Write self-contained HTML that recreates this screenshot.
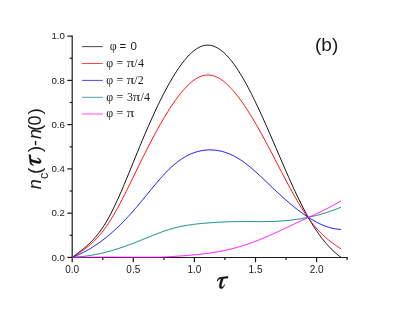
<!DOCTYPE html>
<html><head><meta charset="utf-8"><title>plot</title>
<style>
html,body{margin:0;padding:0;background:#fff;}
body{width:403px;height:309px;overflow:hidden;font-family:"Liberation Sans",sans-serif;}
svg{display:block;will-change:transform;}
text{font-family:"Liberation Sans",sans-serif;fill:#1a1a1a;}
.ser{font-family:"Liberation Serif",serif;}
.sans{font-family:"Liberation Sans",sans-serif;}
</style></head><body>
<svg width="403" height="309" viewBox="0 0 403 309">

<g stroke="#1a1a1a" stroke-width="1.2" fill="none" stroke-linecap="butt">
<path d="M72.2,35.5 V258.1"/>
<path d="M71.60,257.45 H347.75" stroke-width="1.05"/>
<path d="M67.3,257.4 H72.2"/>
<path d="M69.6,235.3 H72.2"/>
<path d="M67.3,213.2 H72.2"/>
<path d="M69.6,191.0 H72.2"/>
<path d="M67.3,168.9 H72.2"/>
<path d="M69.6,146.8 H72.2"/>
<path d="M67.3,124.6 H72.2"/>
<path d="M69.6,102.5 H72.2"/>
<path d="M67.3,80.4 H72.2"/>
<path d="M69.6,58.2 H72.2"/>
<path d="M67.3,36.1 H72.2"/>
<path d="M72.2,257.45 V262.3"/>
<path d="M102.8,257.45 V260.1"/>
<path d="M133.3,257.45 V262.3"/>
<path d="M163.9,257.45 V260.1"/>
<path d="M194.4,257.45 V262.3"/>
<path d="M224.9,257.45 V260.1"/>
<path d="M255.5,257.45 V262.3"/>
<path d="M286.1,257.45 V260.1"/>
<path d="M316.6,257.45 V262.3"/>
<path d="M347.1,257.45 V260.1"/>
</g>
<g fill="none" stroke-width="0.95" stroke-linejoin="round" stroke-linecap="butt">
<path d="M72.2,257.45 L73.2,256.69 L74.2,255.93 L75.2,255.18 L76.2,254.42 L77.2,253.66 L78.2,252.90 L79.2,252.13 L80.2,251.35 L81.2,250.57 L82.2,249.77 L83.2,248.95 L84.2,248.12 L85.2,247.27 L86.2,246.41 L87.2,245.52 L88.2,244.61 L89.2,243.67 L90.2,242.70 L91.2,241.71 L92.2,240.69 L93.2,239.63 L94.2,238.54 L95.2,237.41 L96.2,236.24 L97.2,235.04 L98.2,233.79 L99.2,232.49 L100.2,231.15 L101.2,229.77 L102.2,228.33 L103.2,226.84 L104.2,225.30 L105.2,223.70 L106.2,222.05 L107.2,220.33 L108.2,218.57 L109.2,216.74 L110.2,214.87 L111.2,212.95 L112.2,210.98 L113.2,208.97 L114.2,206.91 L115.2,204.82 L116.2,202.68 L117.2,200.51 L118.2,198.30 L119.2,196.07 L120.2,193.80 L121.2,191.50 L122.2,189.18 L123.2,186.84 L124.2,184.47 L125.2,182.09 L126.2,179.69 L127.2,177.27 L128.2,174.84 L129.2,172.40 L130.2,169.95 L131.2,167.49 L132.2,165.03 L133.2,162.57 L134.2,160.11 L135.2,157.65 L136.2,155.19 L137.2,152.74 L138.2,150.30 L139.2,147.87 L140.2,145.45 L141.2,143.04 L142.2,140.65 L143.2,138.28 L144.2,135.92 L145.2,133.57 L146.2,131.24 L147.2,128.93 L148.2,126.64 L149.2,124.36 L150.2,122.10 L151.2,119.86 L152.2,117.65 L153.2,115.45 L154.2,113.27 L155.2,111.12 L156.2,108.98 L157.2,106.87 L158.2,104.79 L159.2,102.72 L160.2,100.69 L161.2,98.67 L162.2,96.68 L163.2,94.72 L164.2,92.79 L165.2,90.88 L166.2,89.00 L167.2,87.15 L168.2,85.32 L169.2,83.53 L170.2,81.77 L171.2,80.04 L172.2,78.33 L173.2,76.67 L174.2,75.03 L175.2,73.43 L176.2,71.86 L177.2,70.32 L178.2,68.83 L179.2,67.36 L180.2,65.94 L181.2,64.56 L182.2,63.21 L183.2,61.91 L184.2,60.65 L185.2,59.43 L186.2,58.25 L187.2,57.12 L188.2,56.03 L189.2,54.99 L190.2,54.00 L191.2,53.05 L192.2,52.15 L193.2,51.30 L194.2,50.50 L195.2,49.76 L196.2,49.06 L197.2,48.42 L198.2,47.83 L199.2,47.30 L200.2,46.82 L201.2,46.41 L202.2,46.04 L203.2,45.74 L204.2,45.50 L205.2,45.31 L206.2,45.19 L207.2,45.13 L208.2,45.13 L209.2,45.19 L210.2,45.32 L211.2,45.50 L212.2,45.74 L213.2,46.04 L214.2,46.40 L215.2,46.82 L216.2,47.29 L217.2,47.82 L218.2,48.40 L219.2,49.03 L220.2,49.72 L221.2,50.46 L222.2,51.26 L223.2,52.10 L224.2,53.00 L225.2,53.94 L226.2,54.93 L227.2,55.97 L228.2,57.06 L229.2,58.20 L230.2,59.38 L231.2,60.60 L232.2,61.87 L233.2,63.19 L234.2,64.55 L235.2,65.94 L236.2,67.39 L237.2,68.87 L238.2,70.39 L239.2,71.95 L240.2,73.55 L241.2,75.18 L242.2,76.86 L243.2,78.57 L244.2,80.31 L245.2,82.09 L246.2,83.90 L247.2,85.74 L248.2,87.61 L249.2,89.52 L250.2,91.45 L251.2,93.41 L252.2,95.39 L253.2,97.40 L254.2,99.44 L255.2,101.50 L256.2,103.58 L257.2,105.69 L258.2,107.81 L259.2,109.96 L260.2,112.12 L261.2,114.30 L262.2,116.50 L263.2,118.72 L264.2,120.95 L265.2,123.19 L266.2,125.44 L267.2,127.71 L268.2,129.99 L269.2,132.28 L270.2,134.57 L271.2,136.88 L272.2,139.19 L273.2,141.50 L274.2,143.82 L275.2,146.15 L276.2,148.47 L277.2,150.80 L278.2,153.13 L279.2,155.46 L280.2,157.78 L281.2,160.11 L282.2,162.42 L283.2,164.73 L284.2,167.04 L285.2,169.33 L286.2,171.62 L287.2,173.90 L288.2,176.16 L289.2,178.41 L290.2,180.65 L291.2,182.88 L292.2,185.08 L293.2,187.27 L294.2,189.44 L295.2,191.59 L296.2,193.72 L297.2,195.83 L298.2,197.91 L299.2,199.97 L300.2,202.00 L301.2,204.01 L302.2,205.99 L303.2,207.94 L304.2,209.85 L305.2,211.74 L306.2,213.59 L307.2,215.41 L308.2,217.20 L309.2,218.95 L310.2,220.66 L311.2,222.34 L312.2,223.99 L313.2,225.60 L314.2,227.17 L315.2,228.71 L316.2,230.22 L317.2,231.70 L318.2,233.14 L319.2,234.54 L320.2,235.92 L321.2,237.26 L322.2,238.57 L323.2,239.84 L324.2,241.08 L325.2,242.30 L326.2,243.47 L327.2,244.62 L328.2,245.74 L329.2,246.82 L330.2,247.87 L331.2,248.90 L332.2,249.89 L333.2,250.85 L334.2,251.78 L335.2,252.68 L336.2,253.55 L337.2,254.39 L338.2,255.20 L339.2,255.98 L340.2,256.73 L341.0,257.34" stroke="#000000"/>
<path d="M72.2,257.45 L73.2,256.82 L74.2,256.18 L75.2,255.55 L76.2,254.90 L77.2,254.25 L78.2,253.59 L79.2,252.93 L80.2,252.25 L81.2,251.56 L82.2,250.86 L83.2,250.14 L84.2,249.41 L85.2,248.66 L86.2,247.89 L87.2,247.10 L88.2,246.29 L89.2,245.46 L90.2,244.61 L91.2,243.73 L92.2,242.83 L93.2,241.90 L94.2,240.94 L95.2,239.95 L96.2,238.93 L97.2,237.87 L98.2,236.79 L99.2,235.66 L100.2,234.50 L101.2,233.31 L102.2,232.07 L103.2,230.80 L104.2,229.48 L105.2,228.12 L106.2,226.72 L107.2,225.27 L108.2,223.78 L109.2,222.25 L110.2,220.68 L111.2,219.07 L112.2,217.42 L113.2,215.74 L114.2,214.02 L115.2,212.28 L116.2,210.50 L117.2,208.70 L118.2,206.86 L119.2,205.01 L120.2,203.12 L121.2,201.22 L122.2,199.29 L123.2,197.35 L124.2,195.39 L125.2,193.41 L126.2,191.42 L127.2,189.41 L128.2,187.39 L129.2,185.36 L130.2,183.33 L131.2,181.28 L132.2,179.24 L133.2,177.18 L134.2,175.13 L135.2,173.07 L136.2,171.02 L137.2,168.97 L138.2,166.92 L139.2,164.88 L140.2,162.84 L141.2,160.82 L142.2,158.80 L143.2,156.79 L144.2,154.79 L145.2,152.80 L146.2,150.82 L147.2,148.85 L148.2,146.90 L149.2,144.96 L150.2,143.03 L151.2,141.11 L152.2,139.21 L153.2,137.32 L154.2,135.45 L155.2,133.59 L156.2,131.75 L157.2,129.92 L158.2,128.12 L159.2,126.33 L160.2,124.56 L161.2,122.81 L162.2,121.08 L163.2,119.37 L164.2,117.68 L165.2,116.01 L166.2,114.36 L167.2,112.74 L168.2,111.14 L169.2,109.56 L170.2,108.01 L171.2,106.48 L172.2,104.97 L173.2,103.50 L174.2,102.05 L175.2,100.62 L176.2,99.23 L177.2,97.86 L178.2,96.52 L179.2,95.22 L180.2,93.95 L181.2,92.71 L182.2,91.50 L183.2,90.33 L184.2,89.19 L185.2,88.09 L186.2,87.03 L187.2,86.00 L188.2,85.02 L189.2,84.08 L190.2,83.17 L191.2,82.31 L192.2,81.49 L193.2,80.72 L194.2,79.99 L195.2,79.30 L196.2,78.66 L197.2,78.07 L198.2,77.53 L199.2,77.04 L200.2,76.60 L201.2,76.20 L202.2,75.86 L203.2,75.58 L204.2,75.34 L205.2,75.17 L206.2,75.04 L207.2,74.98 L208.2,74.97 L209.2,75.01 L210.2,75.12 L211.2,75.27 L212.2,75.48 L213.2,75.74 L214.2,76.05 L215.2,76.41 L216.2,76.82 L217.2,77.28 L218.2,77.79 L219.2,78.35 L220.2,78.95 L221.2,79.60 L222.2,80.29 L223.2,81.03 L224.2,81.81 L225.2,82.63 L226.2,83.49 L227.2,84.40 L228.2,85.34 L229.2,86.32 L230.2,87.34 L231.2,88.40 L232.2,89.49 L233.2,90.62 L234.2,91.78 L235.2,92.98 L236.2,94.21 L237.2,95.47 L238.2,96.76 L239.2,98.08 L240.2,99.44 L241.2,100.82 L242.2,102.23 L243.2,103.66 L244.2,105.13 L245.2,106.62 L246.2,108.13 L247.2,109.67 L248.2,111.23 L249.2,112.82 L250.2,114.42 L251.2,116.05 L252.2,117.70 L253.2,119.37 L254.2,121.06 L255.2,122.77 L256.2,124.49 L257.2,126.23 L258.2,127.99 L259.2,129.77 L260.2,131.55 L261.2,133.36 L262.2,135.18 L263.2,137.01 L264.2,138.85 L265.2,140.70 L266.2,142.56 L267.2,144.44 L268.2,146.32 L269.2,148.21 L270.2,150.11 L271.2,152.02 L272.2,153.93 L273.2,155.85 L274.2,157.77 L275.2,159.70 L276.2,161.63 L277.2,163.56 L278.2,165.49 L279.2,167.43 L280.2,169.35 L281.2,171.28 L282.2,173.20 L283.2,175.12 L284.2,177.03 L285.2,178.94 L286.2,180.83 L287.2,182.71 L288.2,184.59 L289.2,186.45 L290.2,188.30 L291.2,190.13 L292.2,191.94 L293.2,193.74 L294.2,195.53 L295.2,197.29 L296.2,199.03 L297.2,200.75 L298.2,202.45 L299.2,204.12 L300.2,205.77 L301.2,207.39 L302.2,208.99 L303.2,210.55 L304.2,212.09 L305.2,213.60 L306.2,215.07 L307.2,216.51 L308.2,217.92 L309.2,219.29 L310.2,220.62 L311.2,221.93 L312.2,223.20 L313.2,224.44 L314.2,225.65 L315.2,226.83 L316.2,227.98 L317.2,229.10 L318.2,230.19 L319.2,231.26 L320.2,232.29 L321.2,233.30 L322.2,234.29 L323.2,235.25 L324.2,236.18 L325.2,237.09 L326.2,237.98 L327.2,238.84 L328.2,239.68 L329.2,240.50 L330.2,241.30 L331.2,242.08 L332.2,242.84 L333.2,243.58 L334.2,244.30 L335.2,245.00 L336.2,245.69 L337.2,246.36 L338.2,247.01 L339.2,247.65 L340.2,248.28 L341.0,248.79" stroke="#ff0000"/>
<path d="M72.2,257.45 L73.2,257.05 L74.2,256.63 L75.2,256.21 L76.2,255.78 L77.2,255.33 L78.2,254.88 L79.2,254.42 L80.2,253.94 L81.2,253.46 L82.2,252.96 L83.2,252.45 L84.2,251.94 L85.2,251.41 L86.2,250.87 L87.2,250.31 L88.2,249.75 L89.2,249.17 L90.2,248.58 L91.2,247.98 L92.2,247.37 L93.2,246.75 L94.2,246.11 L95.2,245.46 L96.2,244.80 L97.2,244.12 L98.2,243.43 L99.2,242.73 L100.2,242.01 L101.2,241.28 L102.2,240.54 L103.2,239.78 L104.2,239.01 L105.2,238.23 L106.2,237.43 L107.2,236.61 L108.2,235.79 L109.2,234.94 L110.2,234.09 L111.2,233.22 L112.2,232.34 L113.2,231.44 L114.2,230.53 L115.2,229.61 L116.2,228.67 L117.2,227.73 L118.2,226.77 L119.2,225.79 L120.2,224.81 L121.2,223.81 L122.2,222.80 L123.2,221.78 L124.2,220.75 L125.2,219.71 L126.2,218.66 L127.2,217.59 L128.2,216.52 L129.2,215.43 L130.2,214.33 L131.2,213.23 L132.2,212.11 L133.2,210.98 L134.2,209.85 L135.2,208.70 L136.2,207.55 L137.2,206.38 L138.2,205.21 L139.2,204.02 L140.2,202.83 L141.2,201.63 L142.2,200.43 L143.2,199.22 L144.2,198.00 L145.2,196.78 L146.2,195.56 L147.2,194.34 L148.2,193.11 L149.2,191.89 L150.2,190.67 L151.2,189.45 L152.2,188.23 L153.2,187.02 L154.2,185.82 L155.2,184.62 L156.2,183.43 L157.2,182.25 L158.2,181.08 L159.2,179.92 L160.2,178.77 L161.2,177.64 L162.2,176.52 L163.2,175.41 L164.2,174.32 L165.2,173.25 L166.2,172.20 L167.2,171.17 L168.2,170.16 L169.2,169.17 L170.2,168.20 L171.2,167.26 L172.2,166.34 L173.2,165.45 L174.2,164.59 L175.2,163.75 L176.2,162.93 L177.2,162.15 L178.2,161.39 L179.2,160.66 L180.2,159.95 L181.2,159.26 L182.2,158.61 L183.2,157.98 L184.2,157.37 L185.2,156.79 L186.2,156.23 L187.2,155.70 L188.2,155.19 L189.2,154.71 L190.2,154.25 L191.2,153.82 L192.2,153.41 L193.2,153.02 L194.2,152.66 L195.2,152.32 L196.2,152.00 L197.2,151.70 L198.2,151.43 L199.2,151.18 L200.2,150.96 L201.2,150.76 L202.2,150.57 L203.2,150.41 L204.2,150.28 L205.2,150.16 L206.2,150.07 L207.2,149.99 L208.2,149.94 L209.2,149.91 L210.2,149.90 L211.2,149.92 L212.2,149.95 L213.2,150.01 L214.2,150.08 L215.2,150.18 L216.2,150.30 L217.2,150.44 L218.2,150.61 L219.2,150.79 L220.2,151.00 L221.2,151.22 L222.2,151.47 L223.2,151.74 L224.2,152.04 L225.2,152.35 L226.2,152.68 L227.2,153.04 L228.2,153.42 L229.2,153.82 L230.2,154.24 L231.2,154.69 L232.2,155.15 L233.2,155.64 L234.2,156.15 L235.2,156.68 L236.2,157.23 L237.2,157.80 L238.2,158.40 L239.2,159.02 L240.2,159.66 L241.2,160.32 L242.2,161.00 L243.2,161.70 L244.2,162.42 L245.2,163.16 L246.2,163.92 L247.2,164.70 L248.2,165.49 L249.2,166.30 L250.2,167.12 L251.2,167.96 L252.2,168.81 L253.2,169.67 L254.2,170.55 L255.2,171.43 L256.2,172.33 L257.2,173.23 L258.2,174.15 L259.2,175.07 L260.2,176.00 L261.2,176.93 L262.2,177.87 L263.2,178.82 L264.2,179.77 L265.2,180.72 L266.2,181.68 L267.2,182.63 L268.2,183.59 L269.2,184.55 L270.2,185.51 L271.2,186.46 L272.2,187.42 L273.2,188.37 L274.2,189.32 L275.2,190.26 L276.2,191.20 L277.2,192.13 L278.2,193.06 L279.2,193.98 L280.2,194.90 L281.2,195.81 L282.2,196.71 L283.2,197.61 L284.2,198.50 L285.2,199.39 L286.2,200.27 L287.2,201.14 L288.2,202.00 L289.2,202.86 L290.2,203.70 L291.2,204.54 L292.2,205.37 L293.2,206.19 L294.2,207.00 L295.2,207.81 L296.2,208.60 L297.2,209.38 L298.2,210.15 L299.2,210.91 L300.2,211.66 L301.2,212.40 L302.2,213.13 L303.2,213.85 L304.2,214.55 L305.2,215.25 L306.2,215.93 L307.2,216.60 L308.2,217.25 L309.2,217.89 L310.2,218.52 L311.2,219.14 L312.2,219.74 L313.2,220.32 L314.2,220.89 L315.2,221.45 L316.2,221.99 L317.2,222.51 L318.2,223.02 L319.2,223.51 L320.2,223.99 L321.2,224.44 L322.2,224.88 L323.2,225.30 L324.2,225.71 L325.2,226.09 L326.2,226.45 L327.2,226.80 L328.2,227.12 L329.2,227.43 L330.2,227.71 L331.2,227.98 L332.2,228.22 L333.2,228.44 L334.2,228.64 L335.2,228.81 L336.2,228.97 L337.2,229.10 L338.2,229.20 L339.2,229.29 L340.2,229.35 L341.0,229.38" stroke="#0000ff"/>
<path d="M72.2,257.45 L73.2,257.38 L74.2,257.31 L75.2,257.23 L76.2,257.15 L77.2,257.06 L78.2,256.97 L79.2,256.87 L80.2,256.76 L81.2,256.66 L82.2,256.54 L83.2,256.42 L84.2,256.30 L85.2,256.17 L86.2,256.03 L87.2,255.89 L88.2,255.74 L89.2,255.59 L90.2,255.43 L91.2,255.27 L92.2,255.10 L93.2,254.92 L94.2,254.74 L95.2,254.55 L96.2,254.36 L97.2,254.16 L98.2,253.96 L99.2,253.75 L100.2,253.53 L101.2,253.31 L102.2,253.08 L103.2,252.85 L104.2,252.60 L105.2,252.36 L106.2,252.10 L107.2,251.84 L108.2,251.58 L109.2,251.31 L110.2,251.03 L111.2,250.75 L112.2,250.46 L113.2,250.16 L114.2,249.86 L115.2,249.56 L116.2,249.25 L117.2,248.93 L118.2,248.61 L119.2,248.29 L120.2,247.96 L121.2,247.62 L122.2,247.28 L123.2,246.94 L124.2,246.59 L125.2,246.24 L126.2,245.88 L127.2,245.52 L128.2,245.16 L129.2,244.79 L130.2,244.42 L131.2,244.05 L132.2,243.67 L133.2,243.29 L134.2,242.90 L135.2,242.52 L136.2,242.13 L137.2,241.73 L138.2,241.34 L139.2,240.94 L140.2,240.54 L141.2,240.14 L142.2,239.74 L143.2,239.33 L144.2,238.92 L145.2,238.52 L146.2,238.11 L147.2,237.70 L148.2,237.29 L149.2,236.89 L150.2,236.48 L151.2,236.08 L152.2,235.68 L153.2,235.28 L154.2,234.88 L155.2,234.49 L156.2,234.09 L157.2,233.71 L158.2,233.32 L159.2,232.94 L160.2,232.57 L161.2,232.20 L162.2,231.84 L163.2,231.48 L164.2,231.13 L165.2,230.78 L166.2,230.44 L167.2,230.11 L168.2,229.79 L169.2,229.47 L170.2,229.16 L171.2,228.86 L172.2,228.57 L173.2,228.29 L174.2,228.02 L175.2,227.76 L176.2,227.51 L177.2,227.27 L178.2,227.03 L179.2,226.80 L180.2,226.59 L181.2,226.38 L182.2,226.17 L183.2,225.98 L184.2,225.79 L185.2,225.61 L186.2,225.44 L187.2,225.27 L188.2,225.11 L189.2,224.96 L190.2,224.81 L191.2,224.67 L192.2,224.53 L193.2,224.40 L194.2,224.27 L195.2,224.15 L196.2,224.04 L197.2,223.92 L198.2,223.82 L199.2,223.71 L200.2,223.61 L201.2,223.52 L202.2,223.42 L203.2,223.33 L204.2,223.25 L205.2,223.16 L206.2,223.08 L207.2,223.00 L208.2,222.92 L209.2,222.85 L210.2,222.77 L211.2,222.70 L212.2,222.63 L213.2,222.57 L214.2,222.50 L215.2,222.44 L216.2,222.38 L217.2,222.32 L218.2,222.26 L219.2,222.21 L220.2,222.16 L221.2,222.11 L222.2,222.06 L223.2,222.01 L224.2,221.97 L225.2,221.93 L226.2,221.89 L227.2,221.85 L228.2,221.82 L229.2,221.79 L230.2,221.76 L231.2,221.73 L232.2,221.70 L233.2,221.68 L234.2,221.66 L235.2,221.64 L236.2,221.62 L237.2,221.61 L238.2,221.59 L239.2,221.58 L240.2,221.57 L241.2,221.57 L242.2,221.56 L243.2,221.56 L244.2,221.56 L245.2,221.56 L246.2,221.56 L247.2,221.57 L248.2,221.57 L249.2,221.57 L250.2,221.58 L251.2,221.59 L252.2,221.59 L253.2,221.60 L254.2,221.60 L255.2,221.61 L256.2,221.61 L257.2,221.61 L258.2,221.62 L259.2,221.62 L260.2,221.62 L261.2,221.62 L262.2,221.62 L263.2,221.61 L264.2,221.60 L265.2,221.59 L266.2,221.58 L267.2,221.57 L268.2,221.55 L269.2,221.53 L270.2,221.51 L271.2,221.48 L272.2,221.45 L273.2,221.42 L274.2,221.38 L275.2,221.34 L276.2,221.29 L277.2,221.24 L278.2,221.19 L279.2,221.13 L280.2,221.06 L281.2,221.00 L282.2,220.92 L283.2,220.85 L284.2,220.77 L285.2,220.68 L286.2,220.59 L287.2,220.50 L288.2,220.40 L289.2,220.29 L290.2,220.18 L291.2,220.07 L292.2,219.95 L293.2,219.83 L294.2,219.70 L295.2,219.56 L296.2,219.42 L297.2,219.28 L298.2,219.13 L299.2,218.98 L300.2,218.82 L301.2,218.65 L302.2,218.48 L303.2,218.30 L304.2,218.12 L305.2,217.93 L306.2,217.74 L307.2,217.54 L308.2,217.34 L309.2,217.13 L310.2,216.91 L311.2,216.69 L312.2,216.46 L313.2,216.23 L314.2,215.99 L315.2,215.74 L316.2,215.49 L317.2,215.23 L318.2,214.97 L319.2,214.70 L320.2,214.42 L321.2,214.14 L322.2,213.85 L323.2,213.56 L324.2,213.25 L325.2,212.95 L326.2,212.63 L327.2,212.31 L328.2,211.99 L329.2,211.65 L330.2,211.31 L331.2,210.97 L332.2,210.61 L333.2,210.25 L334.2,209.89 L335.2,209.51 L336.2,209.13 L337.2,208.75 L338.2,208.35 L339.2,207.95 L340.2,207.55 L341.0,207.20" stroke="#008080"/>
<path d="M72.2,257.20 L73.2,257.20 L74.2,257.20 L75.2,257.20 L76.2,257.20 L77.2,257.20 L78.2,257.20 L79.2,257.20 L80.2,257.20 L81.2,257.20 L82.2,257.20 L83.2,257.20 L84.2,257.20 L85.2,257.20 L86.2,257.20 L87.2,257.20 L88.2,257.20 L89.2,257.20 L90.2,257.20 L91.2,257.20 L92.2,257.20 L93.2,257.20 L94.2,257.20 L95.2,257.19 L96.2,257.18 L97.2,257.16 L98.2,257.15 L99.2,257.14 L100.2,257.12 L101.2,257.11 L102.2,257.10 L103.2,257.09 L104.2,257.08 L105.2,257.07 L106.2,257.06 L107.2,257.06 L108.2,257.05 L109.2,257.05 L110.2,257.05 L111.2,257.05 L112.2,257.05 L113.2,257.06 L114.2,257.07 L115.2,257.07 L116.2,257.08 L117.2,257.09 L118.2,257.11 L119.2,257.12 L120.2,257.13 L121.2,257.15 L122.2,257.16 L123.2,257.18 L124.2,257.20 L125.2,257.20 L126.2,257.20 L127.2,257.20 L128.2,257.20 L129.2,257.20 L130.2,257.20 L131.2,257.20 L132.2,257.20 L133.2,257.20 L134.2,257.20 L135.2,257.20 L136.2,257.20 L137.2,257.20 L138.2,257.20 L139.2,257.20 L140.2,257.20 L141.2,257.20 L142.2,257.20 L143.2,257.20 L144.2,257.20 L145.2,257.20 L146.2,257.20 L147.2,257.20 L148.2,257.20 L149.2,257.20 L150.2,257.20 L151.2,257.20 L152.2,257.20 L153.2,257.20 L154.2,257.20 L155.2,257.20 L156.2,257.20 L157.2,257.20 L158.2,257.20 L159.2,257.18 L160.2,257.14 L161.2,257.10 L162.2,257.06 L163.2,257.02 L164.2,256.97 L165.2,256.92 L166.2,256.87 L167.2,256.82 L168.2,256.77 L169.2,256.71 L170.2,256.66 L171.2,256.60 L172.2,256.54 L173.2,256.47 L174.2,256.41 L175.2,256.35 L176.2,256.28 L177.2,256.21 L178.2,256.14 L179.2,256.07 L180.2,255.99 L181.2,255.92 L182.2,255.84 L183.2,255.77 L184.2,255.69 L185.2,255.61 L186.2,255.53 L187.2,255.45 L188.2,255.36 L189.2,255.28 L190.2,255.19 L191.2,255.10 L192.2,255.02 L193.2,254.93 L194.2,254.83 L195.2,254.74 L196.2,254.64 L197.2,254.54 L198.2,254.44 L199.2,254.34 L200.2,254.23 L201.2,254.13 L202.2,254.01 L203.2,253.90 L204.2,253.78 L205.2,253.66 L206.2,253.54 L207.2,253.41 L208.2,253.28 L209.2,253.14 L210.2,253.00 L211.2,252.86 L212.2,252.71 L213.2,252.56 L214.2,252.41 L215.2,252.25 L216.2,252.08 L217.2,251.91 L218.2,251.74 L219.2,251.56 L220.2,251.37 L221.2,251.18 L222.2,250.99 L223.2,250.78 L224.2,250.58 L225.2,250.37 L226.2,250.15 L227.2,249.92 L228.2,249.69 L229.2,249.46 L230.2,249.21 L231.2,248.97 L232.2,248.71 L233.2,248.45 L234.2,248.19 L235.2,247.92 L236.2,247.64 L237.2,247.36 L238.2,247.07 L239.2,246.78 L240.2,246.48 L241.2,246.18 L242.2,245.87 L243.2,245.55 L244.2,245.23 L245.2,244.91 L246.2,244.58 L247.2,244.24 L248.2,243.90 L249.2,243.56 L250.2,243.21 L251.2,242.85 L252.2,242.49 L253.2,242.13 L254.2,241.76 L255.2,241.38 L256.2,241.00 L257.2,240.62 L258.2,240.23 L259.2,239.83 L260.2,239.43 L261.2,239.03 L262.2,238.62 L263.2,238.21 L264.2,237.80 L265.2,237.38 L266.2,236.95 L267.2,236.52 L268.2,236.09 L269.2,235.65 L270.2,235.21 L271.2,234.77 L272.2,234.32 L273.2,233.87 L274.2,233.42 L275.2,232.96 L276.2,232.51 L277.2,232.05 L278.2,231.58 L279.2,231.12 L280.2,230.65 L281.2,230.18 L282.2,229.71 L283.2,229.24 L284.2,228.77 L285.2,228.30 L286.2,227.82 L287.2,227.35 L288.2,226.87 L289.2,226.40 L290.2,225.92 L291.2,225.44 L292.2,224.97 L293.2,224.49 L294.2,224.02 L295.2,223.54 L296.2,223.07 L297.2,222.60 L298.2,222.12 L299.2,221.65 L300.2,221.18 L301.2,220.72 L302.2,220.25 L303.2,219.79 L304.2,219.33 L305.2,218.87 L306.2,218.41 L307.2,217.95 L308.2,217.49 L309.2,217.04 L310.2,216.58 L311.2,216.12 L312.2,215.66 L313.2,215.21 L314.2,214.75 L315.2,214.28 L316.2,213.82 L317.2,213.36 L318.2,212.89 L319.2,212.42 L320.2,211.94 L321.2,211.47 L322.2,210.99 L323.2,210.50 L324.2,210.01 L325.2,209.52 L326.2,209.02 L327.2,208.51 L328.2,208.01 L329.2,207.49 L330.2,206.97 L331.2,206.44 L332.2,205.91 L333.2,205.36 L334.2,204.81 L335.2,204.26 L336.2,203.69 L337.2,203.12 L338.2,202.54 L339.2,201.95 L340.2,201.34 L341.0,200.83" stroke="#ff00ff"/>
</g>
<g font-size="10px">
<text x="64.9" y="260.6" text-anchor="end" font-size="9.7px">0.0</text>
<text x="64.9" y="216.3" text-anchor="end" font-size="9.7px">0.2</text>
<text x="64.9" y="172.1" text-anchor="end" font-size="9.7px">0.4</text>
<text x="64.9" y="127.8" text-anchor="end" font-size="9.7px">0.6</text>
<text x="64.9" y="83.5" text-anchor="end" font-size="9.7px">0.8</text>
<text x="64.9" y="39.2" text-anchor="end" font-size="9.7px">1.0</text>
<text x="72.2" y="272.8" text-anchor="middle">0.0</text>
<text x="133.3" y="272.8" text-anchor="middle">0.5</text>
<text x="194.4" y="272.8" text-anchor="middle">1.0</text>
<text x="255.5" y="272.8" text-anchor="middle">1.5</text>
<text x="316.6" y="272.8" text-anchor="middle">2.0</text>
</g>
<g stroke-width="0.72" fill="none">
<path d="M82.0,46.65 H102.8" stroke="#000000"/>
<path d="M82.0,63.5 H102.8" stroke="#ff0000"/>
<path d="M82.0,80.4 H102.8" stroke="#0000ff"/>
<path d="M82.0,97.3 H102.8" stroke="#008080"/>
<path d="M82.0,114.0 H102.8" stroke="#ff00ff"/>
</g>
<text class="ser" x="109.7" y="50.3" font-size="12px">φ</text>
<text class="sans" x="119.4" y="50.3" font-size="11.5px">=</text>
<text class="sans" x="130.4" y="50.3" font-size="11.5px">0</text>
<text class="ser" x="106.3" y="66.5" font-size="12px">φ</text>
<text class="ser" x="116.6" y="66.5" font-size="12px">=</text>
<text class="ser" transform="translate(126.7,66.5) scale(1.25,1)" font-size="12px">π</text>
<text class="ser" x="134.3" y="66.5" font-size="12px">/</text>
<text class="ser" x="137.9" y="66.5" font-size="12px">4</text>
<text class="ser" x="106.3" y="83.6" font-size="12px">φ</text>
<text class="ser" x="116.6" y="83.6" font-size="12px">=</text>
<text class="ser" transform="translate(126.7,83.6) scale(1.25,1)" font-size="12px">π</text>
<text class="ser" x="134.3" y="83.6" font-size="12px">/</text>
<text class="ser" x="137.7" y="83.6" font-size="12px">2</text>
<text class="ser" x="106.3" y="100.6" font-size="12px">φ</text>
<text class="ser" x="116.6" y="100.6" font-size="12px">=</text>
<text class="ser" x="127.0" y="100.6" font-size="12px">3</text>
<text class="ser" transform="translate(132.8,100.6) scale(1.25,1)" font-size="12px">π</text>
<text class="ser" x="140.4" y="100.6" font-size="12px">/</text>
<text class="ser" x="144.0" y="100.6" font-size="12px">4</text>
<text class="ser" x="106.3" y="117.4" font-size="12px">φ</text>
<text class="ser" x="116.6" y="117.4" font-size="12px">=</text>
<text class="ser" transform="translate(126.7,117.4) scale(1.25,1)" font-size="12px">π</text>
<text x="315" y="50.6" font-size="19px">(b)</text>
<g transform="translate(217.3,288.7)" fill="#111" stroke="#111" stroke-width="0.25" stroke-linejoin="round"><path d="M-0.25,-7.6 C0.2,-9.6 1.2,-11.25 3.0,-11.35 L10.9,-12.45 L10.6,-10.5 L3.4,-9.85 C2.0,-9.75 1.0,-9.0 0.35,-7.45 Z"/><path d="M3.75,-10.2 L6.3,-10.4 C5.4,-7.8 4.3,-4.8 4.2,-3.0 C4.15,-1.6 4.9,-1.3 5.5,-1.9 C6.2,-2.6 6.8,-3.4 7.2,-4.15 L7.65,-3.85 C7.0,-2.2 5.8,0.05 4.0,0.05 C2.4,0.05 1.85,-1.4 1.95,-3.0 C2.15,-5.2 3.15,-8.0 3.75,-10.2 Z"/></g>
<g transform="translate(41.2,188.7) rotate(-90)" font-size="18px">
<text x="-0.6" y="0" font-style="italic">n</text>
<text x="9.7" y="6.5" font-size="12.5px">c</text>
<text x="14.7" y="0" font-size="19px">(</text>
<g transform="translate(23.3,0)" fill="#111" stroke="#111" stroke-width="0.25" stroke-linejoin="round"><path d="M-0.25,-7.6 C0.2,-9.6 1.2,-11.25 3.0,-11.35 L10.9,-12.45 L10.6,-10.5 L3.4,-9.85 C2.0,-9.75 1.0,-9.0 0.35,-7.45 Z"/><path d="M3.75,-10.2 L6.3,-10.4 C5.4,-7.8 4.3,-4.8 4.2,-3.0 C4.15,-1.6 4.9,-1.3 5.5,-1.9 C6.2,-2.6 6.8,-3.4 7.2,-4.15 L7.65,-3.85 C7.0,-2.2 5.8,0.05 4.0,0.05 C2.4,0.05 1.85,-1.4 1.95,-3.0 C2.15,-5.2 3.15,-8.0 3.75,-10.2 Z"/></g>
<text x="36.5" y="0" font-size="19px">)</text>
<text x="42.6" y="0" >-</text>
<text x="49.8" y="0" font-style="italic">n</text>
<text x="57.6" y="0" font-size="19px">(</text>
<text x="63.2" y="0" >0</text>
<text x="74.3" y="0" font-size="19px">)</text>
</g>
</svg></body></html>
